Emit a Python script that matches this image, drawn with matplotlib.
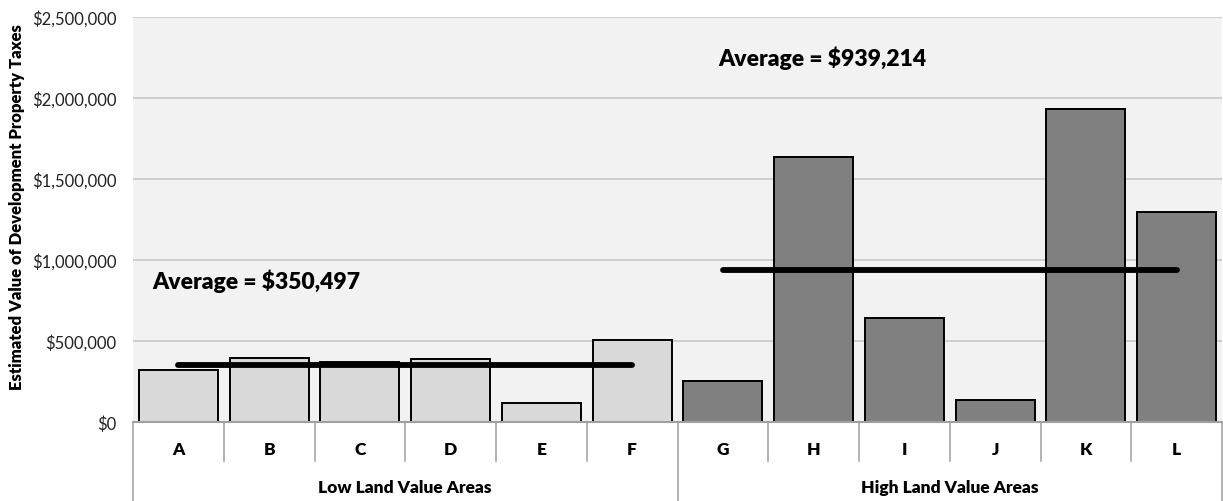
import matplotlib
matplotlib.use("Agg")
import matplotlib.pyplot as plt
from matplotlib.ticker import FuncFormatter

plt.rcParams['font.family'] = ['Lato', 'DejaVu Sans']

# Data
areas = ["A", "B", "C", "D", "E", "F", "G", "H", "I", "J", "K", "L"]
low_values = [319000, 392000, 371000, 388000, 119000, 506000]
high_values = [255000, 1636000, 642000, 138000, 1932000, 1294000]
groups = ["Low Land Value Areas", "High Land Value Areas"]
low_average = 350497
high_average = 939214
y_ticks = [0, 500000, 1000000, 1500000, 2000000, 2500000]

values = low_values + high_values
n_low = len(low_values)
n = len(areas)
colors = ["#d9d9d9"] * n_low + ["#808080"] * len(high_values)

fig = plt.figure(figsize=(12.23, 5.02), dpi=100)
ax = fig.add_axes([133 / 1223, 1 - 423 / 502, 1089 / 1223, 405 / 502])
ax.set_facecolor("#f2f2f2")

xs = list(range(n))
ax.bar(xs, values, width=0.87, color=colors, edgecolor="black", linewidth=1.4, zorder=3)

# Group averages spanning first to last bar of each group
ax.plot([0, n_low - 1], [low_average, low_average], color="black", lw=4.2,
        solid_capstyle="round", zorder=4)
ax.plot([n_low, n - 1], [high_average, high_average], color="black", lw=4.2,
        solid_capstyle="round", zorder=4)
ax.text(-0.29, 875000, f"Average = ${low_average:,}", fontsize=16.5, fontweight="heavy",
        ha="left", va="center", zorder=5)
ax.text(5.95, 2250000, f"Average = ${high_average:,}", fontsize=16.5, fontweight="heavy",
        ha="left", va="center", zorder=5)

ax.set_xlim(-0.5, n - 0.5)
ax.set_ylim(0, 2500000)
ax.set_yticks(y_ticks)
ax.yaxis.set_major_formatter(FuncFormatter(lambda v, p: f"${v:,.0f}"))
ax.tick_params(axis="y", length=0, pad=12, labelsize=12, labelcolor="#222222")
ax.tick_params(axis="x", length=0, labelbottom=False)
ax.grid(axis="y", color="#c8c8c8", lw=1.2, zorder=0)
for s in ["top", "right", "left"]:
    ax.spines[s].set_visible(False)
ax.spines["bottom"].set_color("#a0a0a0")
ax.spines["bottom"].set_linewidth(1.5)
ax.spines["bottom"].set_zorder(4)

ax.set_ylabel("Estimated Value of Development Property Taxes", fontsize=12,
              fontweight="heavy")
ax.yaxis.set_label_coords(-0.099, 0.533)

# Two-level category axis below the plot
trans = ax.get_xaxis_transform()
px = 1 / 405.0
y_sep = -39 * px
y_bottom = -80 * px
sep_color = "#a6a6a6"
for i in range(n + 1):
    edge = i - 0.5
    if i in (0, n_low, n):
        ax.plot([edge, edge], [0, y_bottom], transform=trans, color=sep_color,
                lw=1.2, clip_on=False)
    else:
        ax.plot([edge, edge], [0, y_sep], transform=trans, color=sep_color,
                lw=1.2, clip_on=False)
for i, name in enumerate(areas):
    ax.text(i, -27 * px, name, transform=trans, ha="center", va="center",
            fontsize=12.5, fontweight="heavy")
ax.text((n_low - 1) / 2, -65 * px, groups[0], transform=trans, ha="center",
        va="center", fontsize=12.5, fontweight="heavy")
ax.text((n_low + n - 1) / 2, -65 * px, groups[1], transform=trans, ha="center",
        va="center", fontsize=12.5, fontweight="heavy")

fig.savefig("out.png", dpi=100)
